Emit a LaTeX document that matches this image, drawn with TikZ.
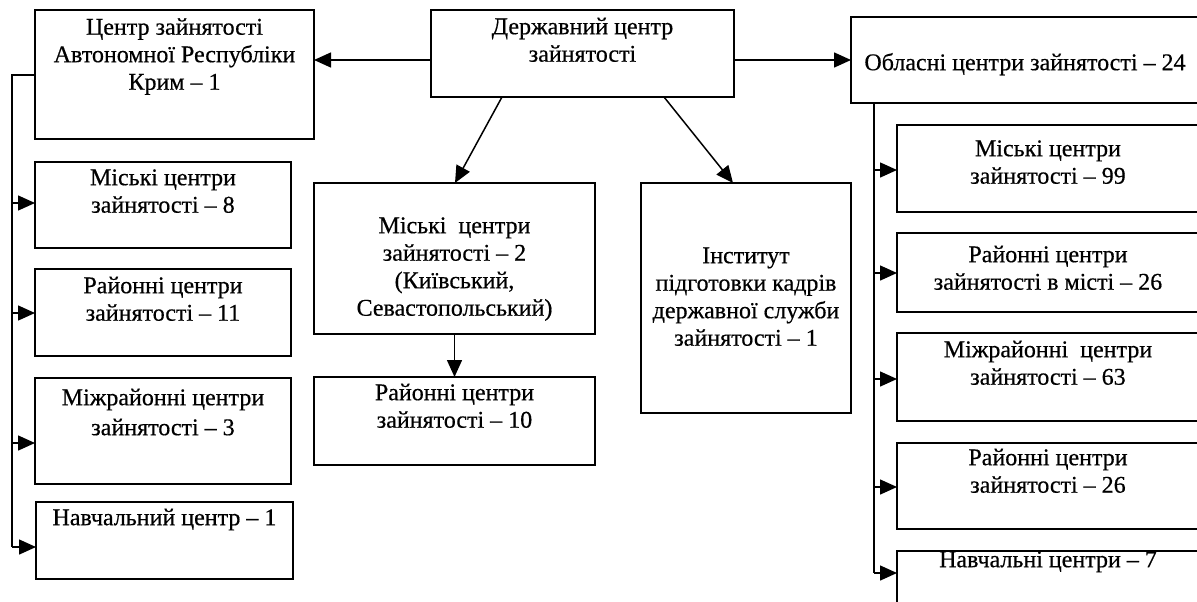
\documentclass[tikz,border=0pt]{standalone}
\usepackage{fontspec}
\setmainfont{Liberation Serif}[FakeBold=0.5]
\usetikzlibrary{arrows.meta,calc}
\tikzset{
  box/.style={draw, line width=1.5pt, inner sep=0pt, outer sep=0pt},
  lbl/.style={anchor=north, inner sep=0pt, align=center, font=\fontsize{24}{27.5}\selectfont},
  arr/.style={line width=1.5pt, -{Triangle[length=17pt,width=15pt]}},
  ln/.style={line width=1.5pt},
}
\newcommand\mybox[5]{%
  \node[box, minimum width={(#4-#2)*1pt}, minimum height={(#5-#3)*1pt}] (#1) at ({(#2+#4)/2},{(#3+#5)/2}) {};}
\newcommand\mylabel[3]{%
  \node[lbl] (#1-t) at ([yshift={(19.25-#2)*1pt}]#1.north) {\strut #3};}
\begin{document}
\begin{tikzpicture}[x=1pt,y=-1pt]
\useasboundingbox (0,0) rectangle (1197,602);
\clip (0,0) rectangle (1197,602);
\fill[white] (0,0) rectangle (1197,602);
% boxes
\mybox{A}{35}{10}{314}{139}
\mybox{D}{431}{10}{734}{97}
\mybox{O}{851}{17}{1199}{103}
\mybox{B1}{35}{162}{291}{248}
\mybox{B2}{35}{269}{291}{356}
\mybox{B3}{35}{378}{291}{484}
\mybox{B4}{36}{502}{293}{579}
\mybox{C1}{314}{183}{595}{334}
\mybox{C2}{314}{377}{595}{465}
\mybox{I}{641}{183}{851}{413}
\mybox{R1}{897}{125}{1199}{212}
\mybox{R2}{897}{233}{1199}{312}
\mybox{R3}{897}{333}{1199}{421}
\mybox{R4}{897}{443}{1199}{529}
\mybox{R5}{897}{551}{1199}{640}
% labels
\mylabel{A}{24.5}{Центр зайнятості\\Автономної Республіки\\Крим – 1}
\mylabel{D}{24}{Державний центр\\зайнятості}
\mylabel{O}{53}{Обласні центри зайнятості – 24}
\mylabel{B1}{23}{Міські центри\\зайнятості – 8}
\mylabel{B2}{24}{Районні центри\\зайнятості – 11}
\mylabel{B3}{27}{Міжрайонні центри\\[2.5pt]зайнятості – 3}
\mylabel{B4}{23}{Навчальний центр – 1}
\mylabel{C1}{50}{Міські~~центри\\зайнятості – 2\\(Київський,\\Севастопольський)}
\mylabel{C2}{23}{Районні центри\\зайнятості – 10}
\mylabel{I}{80}{Інститут\\підготовки кадрів\\державної служби\\зайнятості – 1}
\mylabel{R1}{31}{Міські центри\\зайнятості – 99}
\mylabel{R2}{29}{Районні центри\\зайнятості в місті – 26}
\mylabel{R3}{24}{Міжрайонні~~центри\\зайнятості – 63}
\mylabel{R4}{22}{Районні центри\\зайнятості – 26}
\mylabel{R5}{16}{Навчальні центри – 7}
% top connectors
\draw[arr] (D.west |- 0,60) -- (A.east |- 0,60);
\draw[arr] (D.east |- 0,60) -- (O.west |- 0,60);
\draw[arr] ([xshift=71pt]D.south west) -- ([xshift=141pt]C1.north west);
\draw[arr] ([xshift=233pt]D.south west) -- ([xshift=92pt]I.north west);
\draw[arr] (C1.south) -- (C2.north);
% left bus
\coordinate (LT) at (12,75);
\coordinate (LB) at (12,547);
\draw[ln] (A.west |- LT) -- (LT) -- (LB);
\draw[arr] (LB) -- (B4.west |- LB);
\draw[arr] (LT |- 0,203) -- (B1.west |- 0,203);
\draw[arr] (LT |- 0,313) -- (B2.west |- 0,313);
\draw[arr] (LT |- 0,443) -- (B3.west |- 0,443);
% right bus
\coordinate (RT) at (874,103);
\coordinate (RB) at (874,573);
\draw[ln] (O.south -| RT) -- (RB);
\draw[arr] (RB) -- (R5.west |- RB);
\draw[arr] (RT |- 0,170) -- (R1.west |- 0,170);
\draw[arr] (RT |- 0,273) -- (R2.west |- 0,273);
\draw[arr] (RT |- 0,379) -- (R3.west |- 0,379);
\draw[arr] (RT |- 0,487) -- (R4.west |- 0,487);
\end{tikzpicture}
\end{document}
